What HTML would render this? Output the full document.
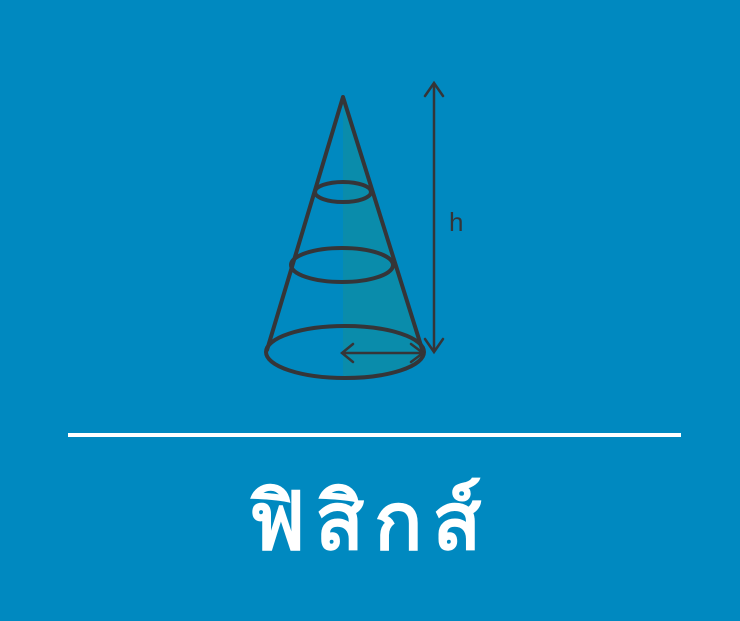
<!DOCTYPE html>
<html><head><meta charset="utf-8"><style>
html,body{margin:0;padding:0}
body{width:740px;height:621px;background:#0089c0;position:relative;overflow:hidden;font-family:"Liberation Sans","DejaVu Sans",sans-serif}
#title{position:absolute;left:0;width:740px;top:462px;text-align:center;color:#fff;font-size:80px;font-weight:bold;letter-spacing:10px;line-height:120px}
</style></head><body>
<svg width="740" height="621" style="position:absolute;left:0;top:0">
<path d="M343,95 L424,352 A79,26 0 0 1 343,378 Z" fill="#0a8cab"/>
<g fill="none" stroke="#353538" stroke-width="4" stroke-linecap="round">
<path d="M343,97 L267,350 M343,97 L423,352"/>
<ellipse cx="345" cy="352" rx="79" ry="26"/>
<ellipse cx="343" cy="192" rx="28" ry="10"/>
<ellipse cx="342" cy="265" rx="51" ry="17"/>
</g>
<g fill="none" stroke="#353538" stroke-width="2.5" stroke-linecap="round">
<path d="M434,83 L434,352 M425,96 L434,83 L443,96 M425,339 L434,352 L443,339"/>
<path d="M342,353 L423,353 M353,344 L342,353 L353,362 M411,344 L423,353 L411,362"/>
</g>
<text x="449" y="231" font-size="26" fill="#353538" font-family="Liberation Sans, sans-serif">h</text>
<rect x="68" y="433" width="613" height="4" fill="#fff"/>
</svg>
<div id="title">ฟิสิกส์</div>
</body></html>
